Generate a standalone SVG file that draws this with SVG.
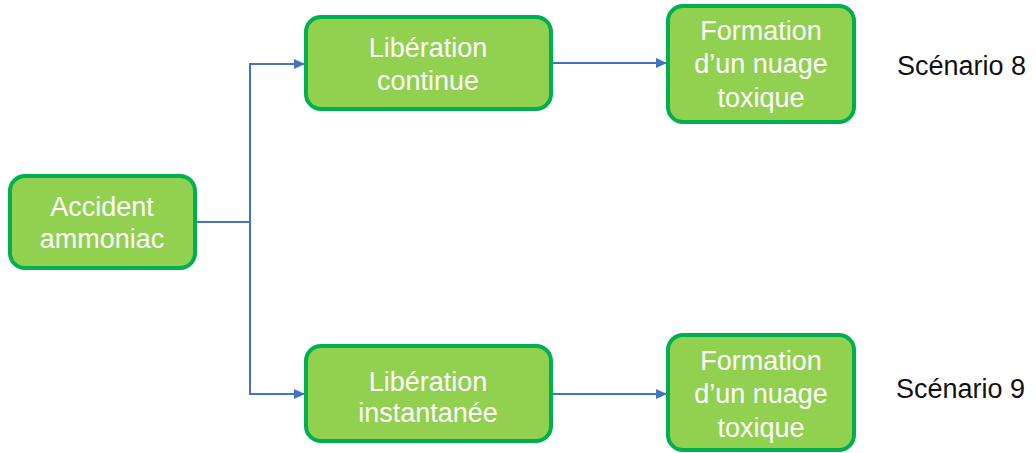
<svg xmlns="http://www.w3.org/2000/svg" width="1036" height="453" viewBox="0 0 1036 453">
<defs>
<style>
.box{fill:#92D050;stroke:#00B050;stroke-width:4}
.t{font-family:"Liberation Sans",Arial,sans-serif;font-size:27px;fill:#FFFFFF;text-anchor:middle}
.s{font-family:"Liberation Sans",Arial,sans-serif;font-size:27px;fill:#111111}
.c{fill:none;stroke:#4472C4;stroke-width:2}
</style>
<marker id="arr" viewBox="0 0 10 10" refX="10" refY="5" markerWidth="11" markerHeight="10" markerUnits="userSpaceOnUse" orient="auto" preserveAspectRatio="none">
<path d="M0,0 L10,5 L0,10 z" fill="#4472C4"/>
</marker>
</defs>
<rect width="1036" height="453" fill="#FFFFFF"/>
<g id="connectors">
<path class="c" d="M197,222 H250"/>
<path class="c" d="M250,222 V64 H305" marker-end="url(#arr)"/>
<path class="c" d="M250,222 V394 H305" marker-end="url(#arr)"/>
<path class="c" d="M553,63 H667" marker-end="url(#arr)"/>
<path class="c" d="M553,394 H667" marker-end="url(#arr)"/>
</g>
<g id="accident">
<rect class="box" x="10" y="176" width="185" height="92" rx="15"/>
<text class="t" x="102" y="216">Accident</text>
<text class="t" x="102" y="248">ammoniac</text>
</g>
<g id="liberation-continue">
<rect class="box" x="306" y="17" width="245" height="92" rx="15"/>
<text class="t" x="428" y="57">Libération</text>
<text class="t" x="428" y="90">continue</text>
</g>
<g id="formation-1">
<rect class="box" x="668" y="6" width="186" height="116" rx="15"/>
<text class="t" x="761" y="40">Formation</text>
<text class="t" x="761" y="73">d’un nuage</text>
<text class="t" x="761" y="107">toxique</text>
</g>
<g id="liberation-instantanee">
<rect class="box" x="306" y="346" width="245" height="95" rx="15"/>
<text class="t" x="428" y="391">Libération</text>
<text class="t" x="428" y="422">instantanée</text>
</g>
<g id="formation-2">
<rect class="box" x="668" y="335" width="186" height="115" rx="15"/>
<text class="t" x="761" y="370">Formation</text>
<text class="t" x="761" y="403">d’un nuage</text>
<text class="t" x="761" y="437">toxique</text>
</g>
<g id="scenario-8">
<text class="s" x="897" y="75">Scénario 8</text>
</g>
<g id="scenario-9">
<text class="s" x="896" y="398">Scénario 9</text>
</g>
</svg>
